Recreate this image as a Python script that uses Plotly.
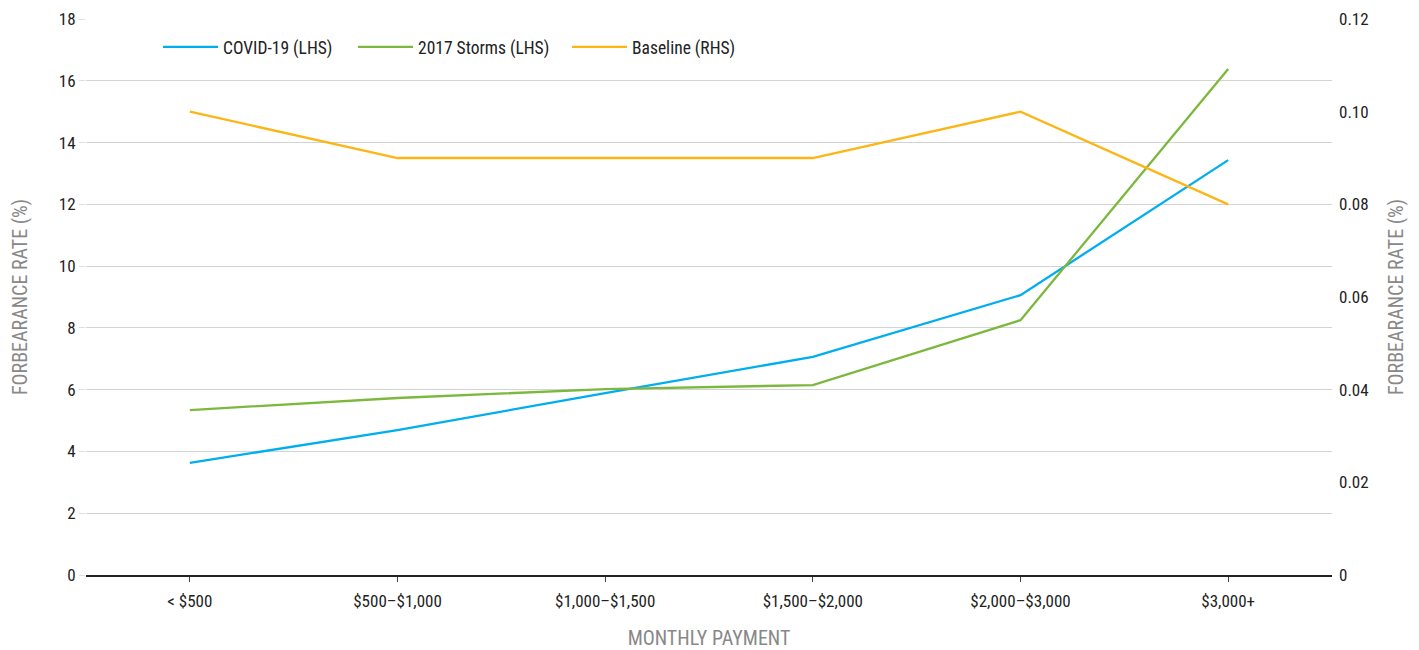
import plotly.graph_objects as go

categories = ["< $500", "$500\u2013$1,000", "$1,000\u2013$1,500", "$1,500\u2013$2,000", "$2,000\u2013$3,000", "$3,000+"]
covid = [3.63, 4.69, 5.89, 7.06, 9.06, 13.43]
storms = [5.34, 5.73, 6.02, 6.15, 8.25, 16.38]
baseline = [0.10, 0.09, 0.09, 0.09, 0.10, 0.08]

left_ticks = [0, 2, 4, 6, 8, 10, 12, 14, 16, 18]
right_ticks = [0, 0.02, 0.04, 0.06, 0.08, 0.10, 0.12]
right_labels = ["0", "0.02", "0.04", "0.06", "0.08", "0.10", "0.12"]

FONT = "Roboto Condensed, Liberation Sans Narrow, Arial Narrow, Liberation Sans, sans-serif"

fig = go.Figure()
fig.add_trace(go.Scatter(x=categories, y=covid, name="COVID-19 (LHS)", mode="lines",
                         line=dict(color="#00AEEF", width=2.3), legend="legend"))
fig.add_trace(go.Scatter(x=categories, y=storms, name="2017 Storms (LHS)", mode="lines",
                         line=dict(color="#7CB83E", width=2.3), legend="legend2"))
fig.add_trace(go.Scatter(x=categories, y=baseline, name="Baseline (RHS)", mode="lines",
                         line=dict(color="#FDB515", width=2.3), yaxis="y2", legend="legend3"))

PLOT_W = 1246.0

def leg(px):
    return dict(orientation="h", x=px / PLOT_W, y=0.982, xanchor="left", yanchor="top",
                itemwidth=55,
                font=dict(size=17.5, color="#222222"), bgcolor="rgba(0,0,0,0)")

fig.update_layout(
    width=1411, height=642,
    margin=dict(l=78, r=87, t=11, b=75, autoexpand=False),
    plot_bgcolor="white", paper_bgcolor="white",
    font=dict(family=FONT, size=17, color="#222222"),
    legend=leg(163 - 86 - 5),
    legend2=leg(358 - 86 - 5),
    legend3=leg(572 - 86 - 5),
    showlegend=True,
    xaxis=dict(
        type="category", range=[-0.5, 5.5], automargin=False,
        showline=True, linecolor="#222222", linewidth=1.5,
        ticks="outside", ticklen=5, tickcolor="#444444",
        ticklabelstandoff=5,
        showgrid=False, zeroline=False,
        tickfont=dict(size=17, color="#222222"),
        title=dict(text="MONTHLY PAYMENT", font=dict(size=20, color="#888888"), standoff=21),
    ),
    yaxis=dict(
        range=[0, 18], tickvals=left_ticks, automargin=False,
        showgrid=True, gridcolor="#D3D3D3", gridwidth=1,
        zeroline=False, showline=False,
        ticks="outside", ticklen=6, tickcolor="#E0E0E0",
        tickfont=dict(size=17, color="#222222"),
        title=dict(text="FORBEARANCE RATE (%)", font=dict(size=20, color="#888888"), standoff=25),
    ),
    yaxis2=dict(
        range=[0, 0.12], tickvals=right_ticks, ticktext=right_labels, automargin=False,
        overlaying="y", side="right",
        showgrid=False, zeroline=False, showline=False,
        ticks="", ticklabelstandoff=6,
        tickfont=dict(size=17, color="#222222"),
        title=dict(text="FORBEARANCE RATE (%)", font=dict(size=20, color="#888888"), standoff=21),
    ),
)

fig.write_html("out.html")
